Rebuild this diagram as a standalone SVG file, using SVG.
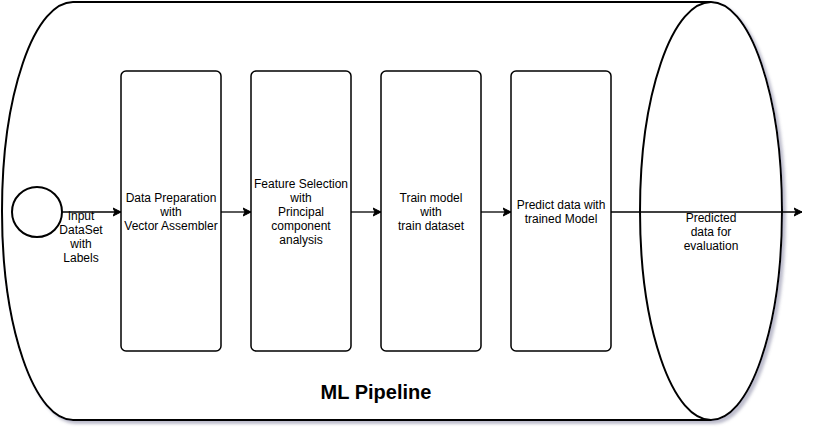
<svg xmlns="http://www.w3.org/2000/svg" width="821" height="433" viewBox="0 0 821 433">
  <defs>
    <style>
      .shape { fill: #ffffff; stroke: #000000; stroke-width: 2; }
      .box { fill: #ffffff; stroke: #000000; stroke-width: 1.5; }
      .conn { fill: none; stroke: #000000; stroke-width: 1.3; }
      .lbl { font-family: "Liberation Sans", Arial, Helvetica, sans-serif; font-size: 12px; fill: #000000; text-anchor: middle; }
      .title { font-family: "Liberation Sans", Arial, Helvetica, sans-serif; font-size: 20px; font-weight: bold; fill: #000000; text-anchor: middle; }
    </style>
    <filter id="shadow" x="-5%" y="-5%" width="115%" height="115%">
      <feDropShadow dx="3" dy="3" stdDeviation="1.5" flood-color="#6f6f90" flood-opacity="0.45"/>
    </filter>
    <marker id="arrow" markerWidth="10" markerHeight="10" refX="8" refY="5" orient="auto" markerUnits="userSpaceOnUse">
      <path d="M0,1 L8,5 L0,9 L2,5 Z" fill="#000000" stroke="#000000" stroke-width="1"/>
    </marker>
  </defs>

  <g id="ml-pipeline">
    <path class="shape" filter="url(#shadow)" d="M73,2 L711,2 A71,209 0 0 1 711,420 L73,420 A71,209 0 0 1 73,2 Z"/>
    <path class="shape" fill="none" d="M711,2 A71,209 0 0 0 711,420"/>
    <text class="title" x="376" y="399">ML Pipeline</text>
  </g>

  <g id="start">
    <circle class="shape" cx="37" cy="212" r="25"/>
  </g>

  <g id="data-prep">
    <rect class="box" x="121" y="71" width="100" height="280" rx="5" ry="5"/>
    <text class="lbl" x="171" y="202">Data Preparation</text>
    <text class="lbl" x="171" y="216">with</text>
    <text class="lbl" x="171" y="230">Vector Assembler</text>
  </g>

  <g id="feature-selection">
    <rect class="box" x="251" y="71" width="100" height="280" rx="5" ry="5"/>
    <text class="lbl" x="301" y="188">Feature Selection</text>
    <text class="lbl" x="301" y="202">with</text>
    <text class="lbl" x="301" y="216">Principal</text>
    <text class="lbl" x="301" y="230">component</text>
    <text class="lbl" x="301" y="244">analysis</text>
  </g>

  <g id="train-model">
    <rect class="box" x="381" y="71" width="100" height="280" rx="5" ry="5"/>
    <text class="lbl" x="431" y="202">Train model</text>
    <text class="lbl" x="431" y="216">with</text>
    <text class="lbl" x="431" y="230">train dataset</text>
  </g>

  <g id="predict">
    <rect class="box" x="511" y="71" width="100" height="280" rx="5" ry="5"/>
    <text class="lbl" x="561" y="209">Predict data with</text>
    <text class="lbl" x="561" y="223">trained Model</text>
  </g>

  <g id="connectors">
    <path class="conn" d="M62,212 L121,212" marker-end="url(#arrow)"/>
    <path class="conn" d="M221,212 L251,212" marker-end="url(#arrow)"/>
    <path class="conn" d="M351,212 L381,212" marker-end="url(#arrow)"/>
    <path class="conn" d="M481,212 L511,212" marker-end="url(#arrow)"/>
    <path class="conn" d="M611,212 L802,212" marker-end="url(#arrow)"/>
    <text class="lbl" x="81" y="220">Input</text>
    <text class="lbl" x="81" y="234">DataSet</text>
    <text class="lbl" x="81" y="248">with</text>
    <text class="lbl" x="81" y="262">Labels</text>
    <text class="lbl" x="711" y="222">Predicted</text>
    <text class="lbl" x="711" y="236">data for</text>
    <text class="lbl" x="711" y="250">evaluation</text>
  </g>
</svg>
